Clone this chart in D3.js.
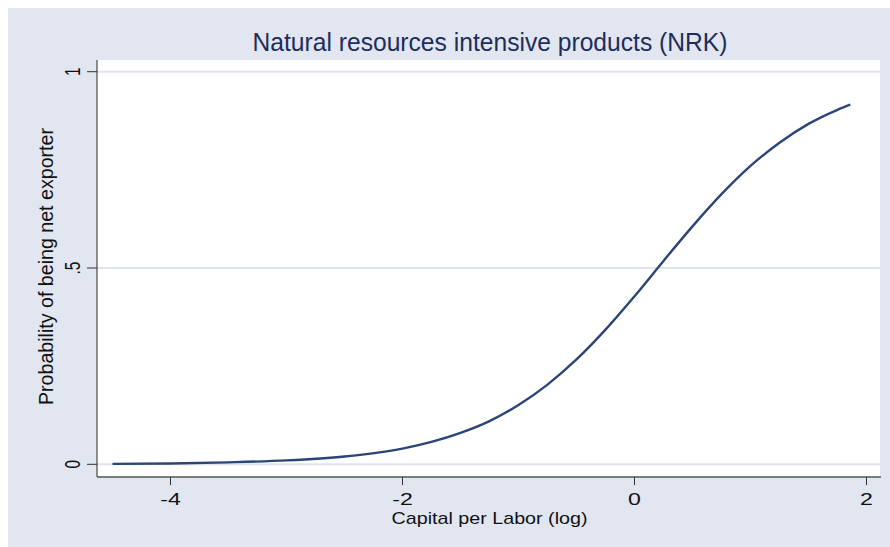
<!DOCTYPE html>
<html lang="en">
<head>
  <meta charset="UTF-8">
  <script src="https://cdn.jsdelivr.net/npm/d3@7"></script>
  <title>NRK</title>
  <style>
    body { margin: 0; background: #fff; }
    text { font-family: "Liberation Sans", Arial, sans-serif; }
  </style>
</head>
<body>
<svg width="890" height="547"></svg>
<script>
// data
var capital = [-4.5, -4, -3.5, -3, -2.5, -2, -1.75, -1.5, -1.25, -1, -0.75, -0.5, -0.25, 0, 0.25, 0.5, 0.75, 1, 1.25, 1.5, 1.75, 1.86];
var prob = [0.001, 0.002, 0.005, 0.010, 0.020, 0.040, 0.057, 0.080, 0.110, 0.151, 0.203, 0.267, 0.343, 0.428, 0.518, 0.606, 0.688, 0.760, 0.819, 0.867, 0.903, 0.916];
var xTicks = [-4, -2, 0, 2];
var yTicks = [0, 0.5, 1];
var yTickLabels = ["0", ".5", "1"];

var svg = d3.select("svg");
var plot = {left: 97, right: 880, top: 60, bottom: 477};

var x = d3.scaleLinear().domain([-4, 2]).range([170.5, 866.5]);
var y = d3.scaleLinear().domain([0, 1]).range([464.3, 71.7]);

// background
svg.append("rect").attr("x", 8).attr("y", 8).attr("width", 882).attr("height", 539).attr("fill", "#e1e6f0");
svg.append("rect").attr("x", plot.left).attr("y", plot.top)
  .attr("width", plot.right - plot.left).attr("height", plot.bottom - plot.top).attr("fill", "#fff");

// grid
svg.selectAll(".grid").data(yTicks).enter().append("line")
  .attr("x1", plot.left).attr("x2", plot.right)
  .attr("y1", function(d){ return y(d) }).attr("y2", function(d){ return y(d) })
  .attr("stroke", "#dfe4ef").attr("stroke-width", 2);

// curve
var line = d3.line()
  .x(function(d, i){ return x(capital[i]) })
  .y(function(d){ return y(d) })
  .curve(d3.curveMonotoneX);
svg.append("path").datum(prob)
  .attr("d", line)
  .attr("fill", "none").attr("stroke", "#2b4577").attr("stroke-width", 2.4);

// axis lines
svg.append("line").attr("x1", plot.left).attr("x2", plot.left).attr("y1", plot.top).attr("y2", plot.bottom)
  .attr("stroke", "#555").attr("stroke-width", 1.3);
svg.append("line").attr("x1", plot.left).attr("x2", plot.right + 1).attr("y1", plot.bottom).attr("y2", plot.bottom)
  .attr("stroke", "#555").attr("stroke-width", 1.3);

// y ticks
var yt = svg.selectAll(".yt").data(yTicks).enter().append("g");
yt.append("line").attr("x1", 87).attr("x2", plot.left)
  .attr("y1", function(d){ return y(d) }).attr("y2", function(d){ return y(d) })
  .attr("stroke", "#333").attr("stroke-width", 1);
yt.append("text")
  .attr("transform", function(d){ return "translate(79.5," + y(d) + ") scale(1.4,1) rotate(-90)" })
  .attr("text-anchor", "middle").attr("font-size", 15.5).attr("fill", "#111")
  .text(function(d, i){ return yTickLabels[i] });

// x ticks
var xt = svg.selectAll(".xt").data(xTicks).enter().append("g");
xt.append("line").attr("y1", plot.bottom).attr("y2", plot.bottom + 8)
  .attr("x1", function(d){ return x(d) }).attr("x2", function(d){ return x(d) })
  .attr("stroke", "#333").attr("stroke-width", 1);
xt.append("text")
  .attr("transform", function(d){ return "translate(" + x(d) + ",505) scale(1.4,1)" })
  .attr("text-anchor", "middle").attr("font-size", 16.5).attr("fill", "#111")
  .text(function(d){ return d < 0 ? "-" + Math.abs(d) : d });

// titles
svg.append("text").attr("x", 490).attr("y", 51).attr("text-anchor", "middle")
  .attr("font-size", 25).attr("fill", "#1e2d5c")
  .attr("textLength", 475).attr("lengthAdjust", "spacingAndGlyphs")
  .text("Natural resources intensive products (NRK)");

svg.append("text").attr("x", 489.5).attr("y", 524).attr("text-anchor", "middle")
  .attr("font-size", 17).attr("fill", "#111")
  .attr("textLength", 196).attr("lengthAdjust", "spacingAndGlyphs")
  .text("Capital per Labor (log)");

svg.append("text").attr("transform", "translate(53.3,266.5) rotate(-90)").attr("text-anchor", "middle")
  .attr("font-size", 19.5).attr("fill", "#111")
  .attr("textLength", 277).attr("lengthAdjust", "spacingAndGlyphs")
  .text("Probability of being net exporter");
</script>
</body>
</html>
